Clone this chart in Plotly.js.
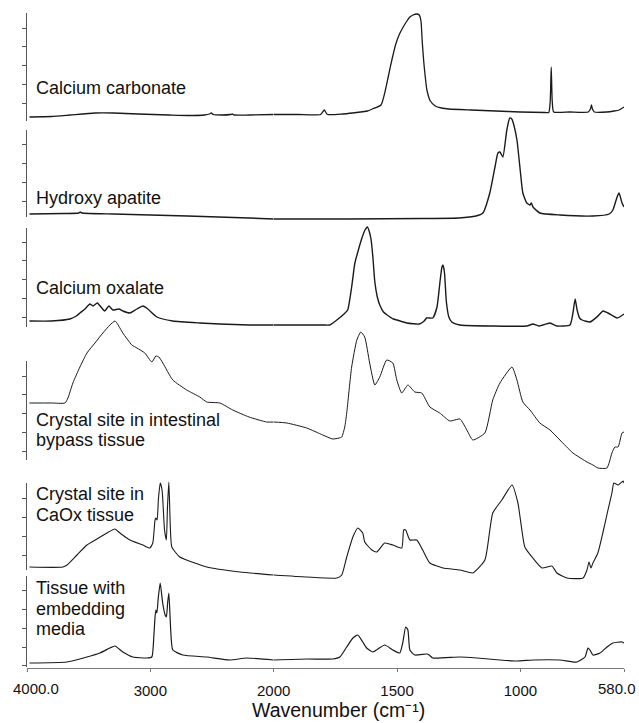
<!DOCTYPE html>
<html>
<head>
<meta charset="utf-8">
<script src="https://cdn.plot.ly/plotly-3.0.1.min.js"></script>
<style>html,body{margin:0;padding:0;background:#fff}#chart{width:639px;height:723px}</style>
</head>
<body>
<div id="chart"></div>
<script>
// ---- Data: wavenumber (cm-1) and relative absorbance, one pair per spectrum ----
const names = ["Calcium carbonate", "Hydroxy apatite", "Calcium oxalate",
  "Crystal site in intestinal\nbypass tissue", "Crystal site in\nCaOx tissue", "Tissue with\nembedding\nmedia"];

const wn1 = [3980,3800,3650,3450,3300,3100,2850,2700,2560,2520,2505,2490,2420,2350,2335,2320,2200,2000,1900,1810,1795,1782,1720,1680,1620,1600,1565,1548,1535,1521,1505,1490,1475,1460,1448,1435,1420,1410,1403,1398,1392,1386,1379,1365,1345,1320,1290,1200,1100,1000,900,885,879,875,871,865,800,725,716,712,708,700,650,620,600,580];
const ab1 = [.04,.045,.06,.08,.08,.07,.06,.055,.06,.07,.08,.065,.06,.065,.07,.06,.06,.065,.065,.065,.11,.065,.07,.08,.1,.12,.16,.3,.45,.61,.77,.87,.94,1.0,1.04,1.06,1.07,1.06,1.0,.8,.6,.45,.31,.2,.15,.13,.12,.11,.1,.09,.085,.085,.2,.54,.2,.09,.09,.09,.12,.16,.12,.09,.09,.1,.11,.14];

const wn2 = [3980,3700,3580,3570,3555,3300,3000,2700,2450,2200,2000,1700,1400,1250,1180,1152,1124,1103,1091,1083,1071,1055,1043,1035,1030,1014,1002,990,974,961,956,949,921,840,706,640,625,608,600,588,580];
const ab2 = [.03,.035,.04,.05,.04,.03,.02,.01,0,-.01,-.02,-.02,-.015,-.01,.01,.04,.24,.5,.64,.65,.6,.87,.99,.98,.95,.77,.5,.24,.14,.12,.14,.10,.04,.02,.01,.03,.07,.2,.24,.14,.10];

const wn3 = [3980,3800,3652,3600,3571,3530,3490,3465,3430,3400,3370,3336,3304,3255,3223,3166,3109,3060,3020,2947,2818,2600,2437,2200,2000,1800,1773,1744,1715,1700,1684,1671,1659,1645,1630,1620,1612,1605,1598,1590,1580,1570,1555,1540,1515,1500,1460,1410,1390,1380,1355,1338,1326,1318,1314,1308,1300,1290,1278,1245,1112,974,949,925,880,852,799,787,778,770,760,750,718,690,665,645,608,580];
const ab3 = [.06,.06,.08,.11,.14,.18,.23,.21,.24,.2,.16,.21,.17,.18,.16,.14,.18,.21,.18,.10,.06,.04,.03,.02,.02,.02,.02,.07,.13,.17,.4,.64,.75,.87,.97,1.0,.95,.87,.7,.45,.3,.22,.15,.12,.08,.07,.04,.03,.06,.09,.09,.2,.45,.6,.62,.55,.25,.1,.05,.02,.01,.01,.03,.01,.04,.01,.02,.14,.28,.17,.09,.07,.05,.10,.16,.14,.09,.13];

const wn4 = [3980,3800,3692,3668,3628,3571,3514,3449,3385,3328,3287,3271,3223,3150,3109,3045,2988,2955,2931,2899,2818,2705,2599,2543,2437,2332,2200,2057,2000,1947,1866,1801,1761,1735,1724,1712,1704,1684,1663,1647,1631,1611,1590,1570,1542,1517,1501,1481,1456,1428,1400,1367,1327,1286,1245,1217,1193,1144,1112,1083,1034,1014,990,961,921,880,840,787,730,706,686,649,629,617,604,588,580];
const ab4 = [.57,.57,.57,.62,.77,.93,1.07,1.17,1.27,1.35,1.39,1.37,1.27,1.15,1.12,1.07,.98,1.04,1.03,.97,.80,.70,.63,.58,.57,.50,.43,.38,.38,.37,.32,.25,.21,.22,.23,.33,.47,.93,1.2,1.28,1.23,.97,.75,.83,1.0,.97,.80,.67,.75,.68,.67,.53,.47,.39,.41,.30,.20,.27,.60,.77,.93,.80,.58,.50,.37,.30,.20,.07,-.02,-.05,-.08,-.08,.07,.13,.13,.27,.28];

const wn5 = [3980,3709,3676,3595,3514,3433,3352,3287,3247,3166,3061,3004,2980,2962,2955,2945,2935,2920,2905,2885,2870,2862,2850,2838,2826,2761,2543,2275,2000,1866,1744,1724,1704,1679,1659,1639,1631,1602,1582,1550,1517,1481,1473,1465,1448,1420,1396,1367,1314,1245,1193,1144,1112,1075,1034,1010,982,953,913,872,852,811,746,730,722,714,706,686,665,645,629,621,604,584,580];
const ab5 = [.03,.03,.05,.15,.25,.31,.37,.41,.37,.30,.25,.22,.27,.5,.52,.5,.7,.87,.8,.4,.3,.6,.88,.43,.23,.13,.03,-.02,-.05,-.07,-.08,-.05,.13,.33,.42,.37,.28,.2,.18,.27,.25,.22,.4,.4,.30,.30,.2,.07,.02,0,-.03,.1,.57,.7,.85,.67,.23,.13,.02,.04,-.03,-.08,-.08,0,.08,.02,.07,.17,.38,.6,.77,.87,.85,.89,.87];

const wn6 = [3980,3676,3514,3409,3328,3287,3223,3142,3028,2988,2972,2962,2955,2947,2935,2920,2900,2880,2870,2860,2850,2835,2818,2737,2543,2356,2219,2000,1866,1761,1732,1704,1679,1659,1639,1623,1598,1550,1517,1489,1477,1465,1456,1448,1428,1379,1370,1355,1245,1176,1083,1014,949,840,771,738,726,718,706,677,649,625,588,580];
const ab6 = [.04,.05,.10,.14,.19,.21,.15,.10,.09,.10,.3,.5,.57,.54,.7,.84,.64,.52,.5,.64,.74,.37,.17,.12,.10,.07,.09,.07,.08,.08,.10,.20,.29,.32,.25,.19,.15,.22,.17,.14,.24,.40,.37,.17,.12,.13,.12,.09,.10,.09,.07,.06,.07,.07,.05,.10,.19,.17,.12,.14,.20,.24,.25,.24];

// x-axis tick labels (split scale: 4000-2000 and 2000-580 at twice the scale)
const tickValsHigh = [4000, 3000, 2000];
const tickTextHigh = ["4000.0", "3000", "2000"];
const tickValsLow = [1500, 1000, 580];
const tickTextLow = ["1500", "1000", "580.0"];
const axisTitle = "Wavenumber (cm⁻¹)";

// ---- Layout / style settings ----
const W = 639, H = 723;
const M = {l: 27, r: 15, t: 13, b: 55};
const plotH = H - M.t - M.b;
const bottomPx = H - M.b;
const PX_PER_UNIT = 100;
const splitFrac = 2000 / (2000 + 2 * 1420);
const spineTop = [13, 130, 228, 361, 483, 576];
const spineBot = [121, 217, 327, 460, 570, 667];
const spineTick0 = [0.18, 0.16, 0.10, 0.09, 0.15, 0.20];
const lineWidths = [1.3, 1.4, 1.4, 1.0, 1.1, 1.2];
const labelCenterPx = [88, 198, 288, 429.75, 504.5, 608.8];   // vertical centre of each label block
const LABEL_SIZE = 18;
const LABEL_GAP = 20.5;
const FONT = "Liberation Sans, Arial, Helvetica, sans-serif";
const toPaperY = py => (bottomPx - py) / plotH;
const tickFont = {size: 15, family: FONT, color: "#111"};

const xCommon = {anchor: "free", position: 0, showline: true, linecolor: "#777", linewidth: 1,
  ticks: "outside", ticklen: 3, tickcolor: "#777", tickmode: "array", tickfont: tickFont,
  showgrid: false, zeroline: false, ticklabelstandoff: 6};

const series = [[wn1, ab1], [wn2, ab2], [wn3, ab3], [wn4, ab4], [wn5, ab5], [wn6, ab6]];
const traces = [];
const layout = {
  width: W, height: H, margin: M,
  paper_bgcolor: "#ffffff", plot_bgcolor: "rgba(0,0,0,0)",
  showlegend: false, hovermode: false,
  font: {family: FONT, color: "#111"},
  // end values get a minor tick; their labels are set inward as annotations below
  xaxis: Object.assign({}, xCommon, {domain: [0, splitFrac], range: [4000, 2000],
    tickvals: tickValsHigh.slice(1), ticktext: tickTextHigh.slice(1),
    minor: {tickmode: "array", tickvals: tickValsHigh.slice(0, 1), ticks: "outside", ticklen: 3, tickcolor: "#777", showgrid: false}}),
  xaxis2: Object.assign({}, xCommon, {domain: [splitFrac, 1], range: [2000, 580],
    tickvals: tickValsLow.slice(0, -1), ticktext: tickTextLow.slice(0, -1),
    minor: {tickmode: "array", tickvals: tickValsLow.slice(-1), ticks: "outside", ticklen: 3, tickcolor: "#777", showgrid: false}}),
  annotations: []
};

series.forEach(([wn, ab], k) => {
  const n = k + 1;
  const yId = "y" + (n === 1 ? "" : n);
  const hiX = [], hiY = [], loX = [], loY = [];
  wn.forEach((w, i) => {
    if (w >= 2000) { hiX.push(w); hiY.push(ab[i]); }
    if (w <= 2000) { loX.push(w); loY.push(ab[i]); }
  });
  const line = {color: "#1a1a1a", width: lineWidths[k], shape: "spline", smoothing: 0.5};
  traces.push({x: hiX, y: hiY, xaxis: "x", yaxis: yId, mode: "lines", line, hoverinfo: "skip"});
  traces.push({x: loX, y: loY, xaxis: "x2", yaxis: yId, mode: "lines", line, hoverinfo: "skip"});
  const b = spineBot[k], t = spineTop[k];
  layout["yaxis" + (n === 1 ? "" : n)] = {
    domain: [0, 1], range: [-(bottomPx - b) / PX_PER_UNIT, (b - M.t) / PX_PER_UNIT],
    visible: false, anchor: "x", showgrid: false, zeroline: false
  };
  // panel spine with its own ticks
  const s = n + 6;
  layout["yaxis" + s] = {
    domain: [toPaperY(b), toPaperY(t)], range: [0, (b - t) / PX_PER_UNIT], anchor: "x",
    showline: true, linecolor: "#555", linewidth: 1, ticks: "outside", ticklen: 4, tickcolor: "#555", tickwidth: 1,
    tickmode: "linear", tick0: spineTick0[k], dtick: 0.187, showticklabels: false,
    showgrid: false, zeroline: false
  };
  traces.push({x: [null], y: [null], xaxis: "x", yaxis: "y" + s, mode: "lines", hoverinfo: "skip"});
  // panel label (one annotation per text line, block centred on the label position)
  const lines = names[k].split("\n");
  const first = labelCenterPx[k] - (lines.length - 1) * LABEL_GAP / 2;
  lines.forEach((txt, j) => {
    layout.annotations.push({text: txt, xref: "paper", yref: "paper", x: 7 / (W - M.l - M.r),
      y: toPaperY(first + j * LABEL_GAP), xanchor: "left", yanchor: "middle",
      showarrow: false, font: {size: LABEL_SIZE, family: FONT, color: "#111"}});
  });
});

// end tick labels, offset inward as in the original
layout.annotations.push({text: tickTextHigh[0], xref: "x", yref: "paper", x: tickValsHigh[0], xshift: 9,
  y: toPaperY(689), xanchor: "center", yanchor: "middle", showarrow: false, font: tickFont});
layout.annotations.push({text: tickTextLow[tickTextLow.length - 1], xref: "x2", yref: "paper", x: tickValsLow[tickValsLow.length - 1], xshift: -7,
  y: toPaperY(689), xanchor: "center", yanchor: "middle", showarrow: false, font: tickFont});
// axis title
layout.annotations.push({text: axisTitle, xref: "paper", yref: "paper", x: (338 - M.l) / (W - M.l - M.r),
  y: toPaperY(710), xanchor: "center", yanchor: "middle", showarrow: false, font: {size: 19.5, family: FONT, color: "#111"}});

Plotly.newPlot("chart", traces, layout, {staticPlot: true, displayModeBar: false});
</script>
</body>
</html>
